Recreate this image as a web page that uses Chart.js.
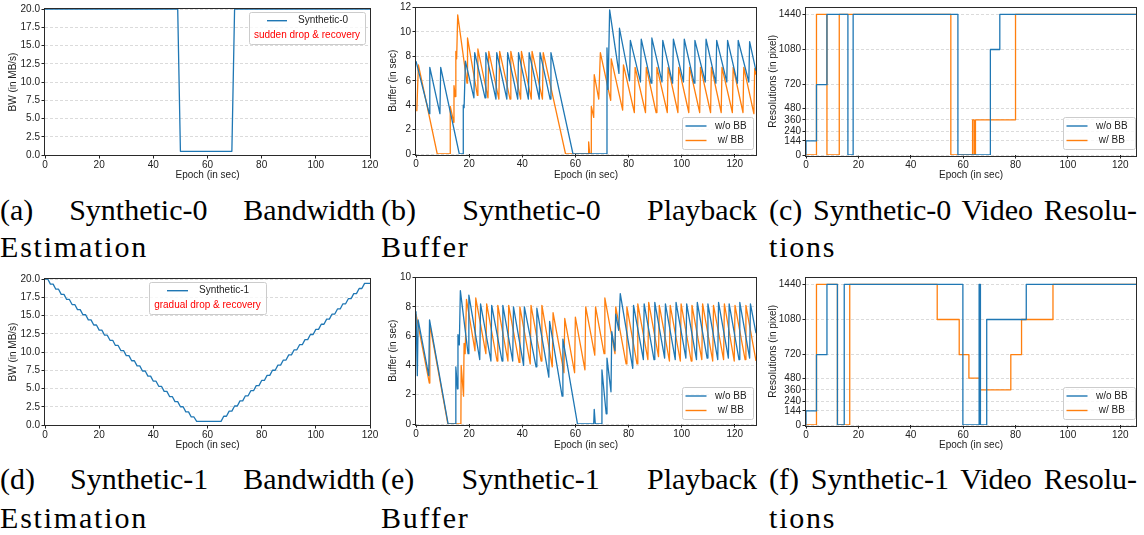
<!DOCTYPE html>
<html>
<head>
<meta charset="utf-8">
<script src="https://cdn.jsdelivr.net/npm/chart.js@4.4.0/dist/chart.umd.min.js"></script>
<style>
  body { margin: 0; background: #fff; }
  #fig { position: relative; width: 1144px; height: 535px; overflow: hidden; background: #fff; }
  canvas { position: absolute; }
  .cap, .cap2 { position: absolute; font-family: "Liberation Serif", "Times New Roman", serif; font-size: 30px; line-height: 30px; color: #000; }
  .cap { text-align: justify; text-align-last: justify; }
  .cap2 { letter-spacing: 1.8px; white-space: nowrap; }
</style>
</head>
<body>
<div id="fig">
  <canvas id="cA" width="380" height="182" style="left:0;top:0"></canvas>
  <canvas id="cB" width="380" height="182" style="left:380px;top:0"></canvas>
  <canvas id="cC" width="384" height="182" style="left:760px;top:0"></canvas>
  <canvas id="cD" width="380" height="182" style="left:0;top:270px"></canvas>
  <canvas id="cE" width="380" height="182" style="left:380px;top:270px"></canvas>
  <canvas id="cF" width="384" height="182" style="left:760px;top:270px"></canvas>

  <div class="cap" style="left:0;top:195px;width:375px">(a) Synthetic-0 Bandwidth</div>
  <div class="cap2" style="left:0;top:232px">Estimation</div>
  <div class="cap" style="left:381px;top:195px;width:376px">(b) Synthetic-0 Playback</div>
  <div class="cap2" style="left:381px;top:232px">Buffer</div>
  <div class="cap" style="left:769px;top:195px;width:368px">(c) Synthetic-0 Video Resolu-</div>
  <div class="cap2" style="left:769px;top:232px">tions</div>

  <div class="cap" style="left:0;top:464px;width:375px">(d) Synthetic-1 Bandwidth</div>
  <div class="cap2" style="left:0;top:503px">Estimation</div>
  <div class="cap" style="left:381px;top:464px;width:376px">(e) Synthetic-1 Playback</div>
  <div class="cap2" style="left:381px;top:503px">Buffer</div>
  <div class="cap" style="left:769px;top:464px;width:368px">(f) Synthetic-1 Video Resolu-</div>
  <div class="cap2" style="left:769px;top:503px">tions</div>
</div>

<script>
// --- Data ---
// tick values
const epochTicks = [0, 20, 40, 60, 80, 100, 120];
const bwTicks = [0, 2.5, 5, 7.5, 10, 12.5, 15, 17.5, 20];
const bufS0Ticks = [0, 2, 4, 6, 8, 10, 12];
const bufS1Ticks = [0, 2, 4, 6, 8, 10];
const resTicks = [0, 144, 240, 360, 480, 720, 1080, 1440];

// (a) Synthetic-0 bandwidth (MB/s)
const bw0T = [0, 49, 50, 69, 70, 120];
const bw0V = [20, 20, 0.5, 0.5, 20, 20];

// (d) Synthetic-1 bandwidth, one value per second (0..120)
const bw1V = [
  20.0, 20.0, 19.3, 19.3, 18.6, 18.6, 17.9, 17.9, 17.2, 17.2,
  16.5, 16.5, 15.8, 15.8, 15.1, 15.1, 14.4, 14.4, 13.7, 13.7,
  13.0, 13.0, 12.3, 12.3, 11.6, 11.6, 10.9, 10.9, 10.2, 10.2,
  9.5, 9.5, 8.8, 8.8, 8.1, 8.1, 7.4, 7.4, 6.7, 6.7,
  6.0, 6.0, 5.3, 5.3, 4.6, 4.6, 3.9, 3.9, 3.2, 3.2,
  2.5, 2.5, 1.8, 1.8, 1.1, 1.1, 0.5, 0.5, 0.5, 0.5,
  0.5, 0.5, 0.5, 0.5, 0.5, 0.5, 1.2, 1.2, 1.9, 1.9,
  2.6, 2.6, 3.3, 3.3, 4.0, 4.0, 4.7, 4.7, 5.4, 5.4,
  6.1, 6.1, 6.8, 6.8, 7.5, 7.5, 8.2, 8.2, 8.9, 8.9,
  9.6, 9.6, 10.3, 10.3, 11.0, 11.0, 11.7, 11.7, 12.4, 12.4,
  13.1, 13.1, 13.8, 13.8, 14.5, 14.5, 15.2, 15.2, 15.9, 15.9,
  16.6, 16.6, 17.3, 17.3, 18.0, 18.0, 18.7, 18.7, 19.4, 19.4,
  19.4
];

// (b) Synthetic-0 playback buffer (sec)
const bufS0WoT = [0, 5.0, 5.2, 9.0, 9.3, 16.3, 17.7, 17.8, 18.1, 18.6, 21.8, 22.1, 26.0, 26.3, 30.1, 30.4, 34.2, 34.5, 38.3, 38.6,
  42.3, 42.6, 46.4, 46.7, 50.5, 50.8, 59.1, 71.8, 71.9, 72.3, 72.9, 76.4, 76.6, 80.4, 80.7, 84.5, 84.8, 88.5, 88.8, 92.6,
  92.9, 96.6, 96.9, 100.7, 101.0, 104.7, 105.0, 108.9, 109.2, 112.9, 113.2, 117.0, 117.3, 121.0, 121.3, 125.3, 125.6, 128];
const bufS0WoV = [7.6, 3.3, 7.1, 3.3, 7.1, 0, 0, 4.0, 3.8, 7.6, 4.6, 8.3, 4.6, 8.3, 4.5, 8.3, 4.5, 8.3, 4.5, 8.3,
  4.5, 8.3, 4.5, 8.3, 4.5, 8.3, 0, 0, 8.7, 5.3, 11.8, 6.6, 10.3, 6.0, 9.3, 5.9, 9.4, 5.8, 9.5, 5.9,
  9.3, 5.8, 9.4, 5.9, 9.4, 5.8, 9.3, 5.9, 9.4, 5.8, 9.3, 5.9, 9.3, 5.8, 9.3, 5.9, 9.2, 6.8];
const bufS0WT = [0.3, 0.9, 8.0, 12.8, 12.9, 14.2, 14.3, 14.8, 15.0, 15.3, 15.7, 19.2, 19.4, 23.1, 23.3, 27.1, 27.4, 31.2, 31.5, 35.4,
  35.7, 39.4, 39.7, 43.4, 43.7, 47.6, 47.9, 56.3, 64.9, 65.0, 65.4, 65.9, 66.0, 66.9, 67.1, 68.8, 69.4, 73.3, 73.5, 77.8,
  78.1, 82.2, 82.5, 86.4, 86.7, 90.4, 90.7, 94.6, 94.9, 98.6, 98.9, 102.7, 103.0, 106.8, 107.1, 110.9, 111.2, 114.9, 115.2, 119.1,
  119.4, 123.1, 123.4, 127.2, 127.5, 128];
const bufS0WV = [3.5, 7.3, 0, 0, 3.9, 2.6, 5.6, 4.7, 8.4, 7.8, 11.4, 5.8, 9.5, 4.8, 8.6, 4.6, 8.4, 4.5, 8.4, 4.5,
  8.4, 4.5, 8.4, 4.5, 8.4, 4.5, 8.3, 0, 0, 1.0, 0, 0, 3.9, 3.0, 6.5, 4.5, 8.3, 4.4, 7.8, 3.6,
  7.3, 3.4, 7.1, 3.4, 7.1, 3.4, 7.1, 3.4, 7.1, 3.4, 7.1, 3.4, 7.1, 3.4, 7.1, 3.4, 7.1, 3.4, 7.1, 3.4,
  7.1, 3.4, 7.1, 3.3, 7.0, 6.5];

// (e) Synthetic-1 playback buffer (sec)
const bufS1WoT = [0, 0.5, 0.8, 4.8, 5.1, 12.1, 14.9, 15.0, 15.6, 15.8, 16.3, 16.7, 19.6, 19.9, 24.0, 24.3, 28.2, 28.5, 32.4, 32.7,
  36.4, 36.7, 40.5, 40.8, 45.2, 45.5, 50.0, 50.3, 55.0, 55.3, 60.8, 66.9, 67.1, 67.5, 69.9, 70.0, 71.6, 71.9, 73.4, 73.7,
  74.9, 75.2, 76.3, 76.9, 81.6, 81.9, 85.6, 85.9, 89.6, 89.9, 93.6, 93.9, 97.6, 97.9, 101.6, 101.9, 105.6, 105.9, 109.6, 109.9,
  113.6, 113.9, 117.6, 117.9, 121.6, 121.9, 125.6, 125.9, 128];
const bufS1WoV = [7.7, 3.3, 7.1, 3.3, 7.1, 0, 0, 3.9, 2.4, 6.1, 5.4, 9.1, 4.8, 8.8, 4.4, 8.2, 4.3, 8.1, 4.3, 8.1,
  4.3, 8.0, 4.0, 8.0, 3.9, 7.9, 3.2, 7.0, 1.9, 5.8, 0, 0, 1.0, 0, 0, 3.7, 0.7, 4.5, 2.2, 6.3,
  5.0, 7.5, 6.4, 8.9, 3.8, 8.1, 4.4, 8.2, 4.4, 8.3, 4.5, 8.2, 4.4, 8.3, 4.5, 8.2, 4.4, 8.3, 4.5, 8.2,
  4.4, 8.3, 4.5, 8.2, 4.4, 8.3, 4.5, 8.2, 6.2];
const bufS1WT = [0, 5.0, 5.2, 12.0, 16.9, 17.0, 17.9, 18.1, 18.5, 19.0, 22.2, 22.5, 26.3, 26.6, 30.5, 30.8, 34.6, 34.9, 38.8, 39.1,
  43.0, 43.3, 47.1, 47.4, 51.3, 51.6, 55.7, 56.0, 59.7, 60.0, 63.6, 63.9, 67.3, 67.6, 70.8, 71.1, 74.9, 75.2, 79.1, 79.4,
  83.2, 83.5, 87.3, 87.6, 91.3, 91.6, 95.4, 95.7, 99.5, 99.8, 103.6, 103.9, 107.6, 107.9, 111.7, 112.0, 115.8, 116.1, 119.8, 120.1,
  123.9, 124.2, 128];
const bufS1WV = [7.5, 2.8, 6.8, 0, 0, 4.0, 1.9, 5.5, 4.8, 8.5, 5.0, 8.6, 4.8, 8.2, 4.3, 8.1, 4.3, 8.1, 4.2, 8.0,
  4.1, 8.1, 4.3, 8.1, 3.9, 7.6, 3.5, 7.2, 3.5, 7.3, 3.7, 8.0, 4.7, 8.0, 4.8, 8.6, 4.8, 8.0, 4.1, 8.0,
  4.1, 8.2, 4.4, 8.3, 4.6, 8.1, 4.3, 8.1, 4.3, 8.2, 4.3, 8.1, 4.4, 8.2, 4.3, 8.1, 4.4, 8.2, 4.3, 8.1,
  4.4, 8.1, 4.3];

// (c) Synthetic-0 video resolution (pixel)
const resS0WoT = [0, 0, 4, 4, 8, 8, 16, 16, 18, 18, 58, 58, 70.4, 70.4, 74, 74, 126];
const resS0WoV = [0, 144, 144, 720, 720, 1440, 1440, 0, 0, 1440, 1440, 0, 0, 1080, 1080, 1440, 1440];
const resS0WT = [0, 4, 4, 8, 8, 12.7, 12.7, 55.3, 55.3, 63.6, 63.6, 64.2, 64.2, 64.7, 64.7, 80, 80, 126];
const resS0WV = [0, 0, 1440, 1440, 0, 0, 1440, 1440, 0, 0, 360, 360, 0, 0, 360, 360, 1440, 1440];

// (f) Synthetic-1 video resolution (pixel)
const resS1WoT = [0, 0, 4, 4, 8, 8, 12, 12, 14.6, 14.6, 59.9, 59.9, 66.1, 66.1, 66.6, 66.6, 69, 69, 84.1, 84.1, 126];
const resS1WoV = [0, 144, 144, 720, 720, 1440, 1440, 0, 0, 1440, 1440, 0, 0, 1440, 1440, 0, 0, 1080, 1080, 1440, 1440];
const resS1WT = [0, 4, 4, 12, 12, 16.7, 16.7, 50.1, 50.1, 58.5, 58.5, 62.2, 62.2, 66.3, 66.3, 78.2, 78.2, 82.3, 82.3, 94.3, 94.3, 126];
const resS1WV = [0, 0, 1440, 1440, 0, 0, 1440, 1440, 1080, 1080, 720, 720, 480, 480, 360, 360, 720, 720, 1080, 1080, 1440, 1440];

// --- Styling ---
const BLUE = '#1f77b4';
const ORANGE = '#ff7f0e';
const INK = '#222';
const font = { family: '"Liberation Sans", Arial, sans-serif', size: 10 };

const pts = (ts, vs) => ts.map((t, i) => ({ x: t, y: vs[i] }));

// black box around the plot area (matplotlib spines)
const framePlugin = {
  id: 'frame',
  afterDatasetsDraw(chart) {
    const { ctx, chartArea: a } = chart;
    ctx.save();
    ctx.strokeStyle = '#2a2a2a';
    ctx.lineWidth = 1;
    ctx.strokeRect(Math.round(a.left) - 0.5, Math.round(a.top) - 0.5,
      Math.round(a.right - a.left) + 1, Math.round(a.bottom - a.top) + 1);
    ctx.restore();
  }
};

// matplotlib-like legend box (optional red note line)
const legendPlugin = {
  id: 'boxLegend',
  afterDatasetsDraw(chart, args, opts) {
    if (!opts || !opts.box) return;
    const { ctx } = chart;
    const b = opts.box;
    ctx.save();
    ctx.beginPath();
    ctx.roundRect(b.x + 0.5, b.y + 0.5, b.w, b.h, 2);
    ctx.fillStyle = 'rgba(255,255,255,0.8)';
    ctx.fill();
    ctx.strokeStyle = '#cccccc';
    ctx.lineWidth = 1;
    ctx.stroke();
    ctx.font = `${font.size}px ${font.family}`;
    ctx.textBaseline = 'middle';
    chart.data.datasets.forEach((ds, i) => {
      const r = opts.rows[i];
      if (!r) return;
      ctx.beginPath();
      ctx.strokeStyle = ds.borderColor;
      ctx.lineWidth = 1.4;
      ctx.moveTo(b.x + r.x0, b.y + r.y);
      ctx.lineTo(b.x + r.x1, b.y + r.y);
      ctx.stroke();
      ctx.fillStyle = INK;
      ctx.textAlign = 'left';
      ctx.fillText(ds.label, b.x + r.tx, b.y + r.y);
    });
    if (opts.note) {
      ctx.fillStyle = '#ff0000';
      ctx.textAlign = 'center';
      ctx.fillText(opts.note.text, b.x + b.w / 2, b.y + opts.note.y);
    }
    ctx.restore();
  }
};

function makePanel(id, o) {
  const canvas = document.getElementById(id);
  const W = canvas.width, H = canvas.height;
  return new Chart(canvas, {
    type: 'line',
    data: {
      datasets: o.series.map(s => ({
        label: s.label,
        data: s.data,
        borderColor: s.color,
        borderWidth: 1.3,
        borderJoinStyle: 'round',
        pointRadius: 0,
        fill: false,
        tension: 0
      }))
    },
    options: {
      responsive: false,
      animation: false,
      devicePixelRatio: 1,
      layout: { padding: { top: o.top, right: W - o.right, left: 0, bottom: 0 } },
      plugins: {
        legend: { display: false },
        tooltip: { enabled: false },
        boxLegend: o.legend
      },
      scales: {
        x: {
          type: 'linear',
          min: 0,
          max: o.xMax,
          afterFit: s => { s.height = H - o.bottom; },
          afterBuildTicks: s => { s.ticks = epochTicks.map(v => ({ value: v })); },
          ticks: { font, color: INK, padding: 1, maxRotation: 0, autoSkip: false, callback: v => String(v) },
          grid: { drawOnChartArea: false, drawTicks: true, tickLength: 3.5, tickColor: INK, tickWidth: 1 },
          border: { display: false },
          title: { display: true, text: 'Epoch (in sec)', font, color: INK, padding: { top: 0, bottom: 1 } }
        },
        y: {
          min: o.yMin,
          max: o.yMax,
          afterFit: s => { s.width = o.left; },
          afterBuildTicks: s => { s.ticks = o.yTicks.map(v => ({ value: v })); },
          ticks: { font, color: INK, padding: 1.5, autoSkip: false, callback: o.yFmt },
          grid: { color: '#d2d2d2', lineWidth: 0.8, tickLength: 3.5, tickColor: INK, tickWidth: 1, tickBorderDash: [] },
          border: { display: false, dash: [3, 2] },
          title: { display: true, text: o.yTitle, font, color: INK, padding: { top: 7, bottom: 0 } }
        }
      }
    },
    plugins: [framePlugin, legendPlugin]
  });
}

const twoRows = [
  { y: 9, x0: 3.5, x1: 24.5, tx: 33 },
  { y: 23.5, x0: 3.5, x1: 24.5, tx: 33 }
];

// (a)
makePanel('cA', {
  left: 45, right: 370, top: 9, bottom: 155, xMax: 120,
  yMin: 0, yMax: 20, yTicks: bwTicks, yFmt: v => v.toFixed(1), yTitle: 'BW (in MB/s)',
  series: [{ label: 'Synthetic-0', color: BLUE, data: pts(bw0T, bw0V) }],
  legend: { box: { x: 249, y: 12, w: 116, h: 32 }, rows: [{ y: 8.7, x0: 18, x1: 38, tx: 49 }],
            note: { text: 'sudden drop & recovery', y: 23 } }
});

// (b)
makePanel('cB', {
  left: 36, right: 376, top: 6, bottom: 154, xMax: 128,
  yMin: 0, yMax: 12, yTicks: bufS0Ticks, yFmt: v => String(v), yTitle: 'Buffer (in sec)',
  series: [
    { label: 'w/o BB', color: BLUE, data: pts(bufS0WoT, bufS0WoV) },
    { label: ' w/ BB', color: ORANGE, data: pts(bufS0WT, bufS0WV) }
  ],
  legend: { box: { x: 302, y: 117, w: 71, h: 32 }, rows: twoRows }
});

// (c)
makePanel('cC', {
  left: 46, right: 376, top: 7, bottom: 155, xMax: 126,
  yMin: 0, yMax: 1510, yTicks: resTicks, yFmt: v => String(v), yTitle: 'Resolutions (in pixel)',
  series: [
    { label: 'w/o BB', color: BLUE, data: pts(resS0WoT, resS0WoV) },
    { label: ' w/ BB', color: ORANGE, data: pts(resS0WT, resS0WV) }
  ],
  legend: { box: { x: 303, y: 117, w: 72, h: 32 }, rows: twoRows }
});

// (d)
makePanel('cD', {
  left: 45, right: 370, top: 9, bottom: 155, xMax: 120,
  yMin: 0, yMax: 20, yTicks: bwTicks, yFmt: v => v.toFixed(1), yTitle: 'BW (in MB/s)',
  series: [{ label: 'Synthetic-1', color: BLUE, data: bw1V.map((v, i) => ({ x: i, y: v })) }],
  legend: { box: { x: 149, y: 12, w: 117, h: 32 }, rows: [{ y: 8.7, x0: 18, x1: 39, tx: 50 }],
            note: { text: 'gradual drop & recovery', y: 23 } }
});

// (e)
makePanel('cE', {
  left: 36, right: 376, top: 6, bottom: 154, xMax: 128,
  yMin: 0, yMax: 10, yTicks: bufS1Ticks, yFmt: v => String(v), yTitle: 'Buffer (in sec)',
  series: [
    { label: 'w/o BB', color: BLUE, data: pts(bufS1WoT, bufS1WoV) },
    { label: ' w/ BB', color: ORANGE, data: pts(bufS1WT, bufS1WV) }
  ],
  legend: { box: { x: 302, y: 117, w: 71, h: 32 }, rows: twoRows }
});

// (f)
makePanel('cF', {
  left: 46, right: 376, top: 7, bottom: 155, xMax: 126,
  yMin: 0, yMax: 1510, yTicks: resTicks, yFmt: v => String(v), yTitle: 'Resolutions (in pixel)',
  series: [
    { label: 'w/o BB', color: BLUE, data: pts(resS1WoT, resS1WoV) },
    { label: ' w/ BB', color: ORANGE, data: pts(resS1WT, resS1WV) }
  ],
  legend: { box: { x: 303, y: 117, w: 72, h: 32 }, rows: twoRows }
});
</script>
</body>
</html>
